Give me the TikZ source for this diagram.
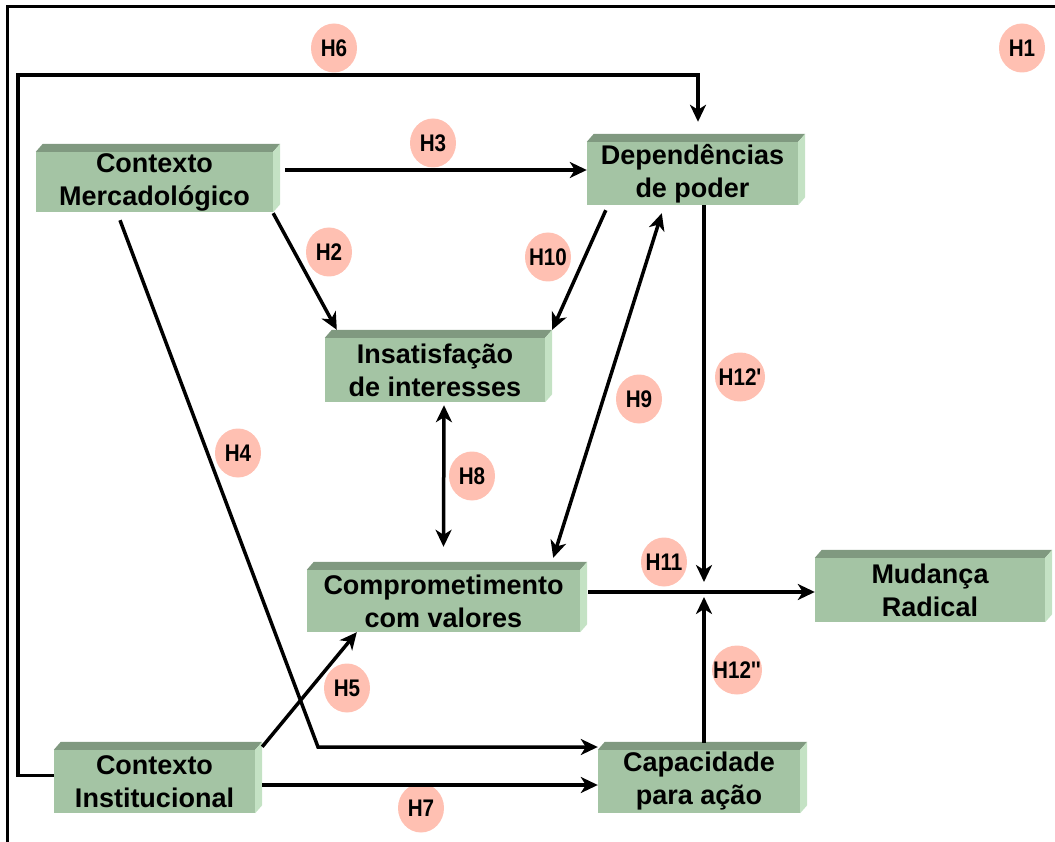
\documentclass[tikz,border=0pt]{standalone}
\usepackage{fontspec}
\setmainfont{Liberation Sans}
\newfontfamily\tagfont[FakeStretch=0.86]{Liberation Sans}
\usetikzlibrary{arrows.meta,shapes.geometric}

\definecolor{slabfront}{RGB}{164,196,164}
\definecolor{slabtop}{RGB}{128,153,128}
\definecolor{slabside}{RGB}{196,226,196}
\definecolor{tagfill}{RGB}{255,192,178}

% top and right faces of a bevelled block
\newcommand\slabfaces[1]{%
  \fill[slabtop] (#1.north west) -- ([shift={(7pt,8pt)}]#1.north west)
    -- ([shift={(7pt,8pt)}]#1.north east) -- (#1.north east) -- cycle;
  \fill[slabside] (#1.north east) -- ([shift={(7pt,8pt)}]#1.north east)
    -- ([shift={(7pt,8pt)}]#1.south east) -- (#1.south east) -- cycle;}

% tag text that does not widen its ellipse
\newcommand\tagtext[1]{\makebox[0pt][c]{#1}}

\begin{document}
\begin{tikzpicture}[x=1pt,y=-1pt,
  slab/.style={fill=slabfront, inner sep=0pt, align=center,
    font=\fontsize{27}{33}\selectfont\bfseries},
  tag/.style={ellipse, fill=tagfill, inner sep=0pt, minimum width=46pt,
    minimum height=49pt, font=\tagfont\bfseries\fontsize{24}{24}\selectfont},
  link/.style={line width=3.5pt, -{Stealth[length=17pt,width=16pt,inset=5pt]}},
  twoway/.style={line width=3.5pt,
    {Stealth[length=17pt,width=16pt,inset=5pt]}-{Stealth[length=17pt,width=16pt,inset=5pt]}}
]
\useasboundingbox (0,0) rectangle (1055,842);

% frame
\draw[line width=3pt] (7,842) -- (7,7) -- (1055,7);

% blocks
\node[slab, minimum width=237pt, minimum height=60pt] (cm) at (154.5,182) {Contexto\\Mercadológico};
\slabfaces{cm}
\node[slab, minimum width=211pt, minimum height=63pt] (dp) at (692.5,173.5) {Dependências\\de poder};
\slabfaces{dp}
\node[slab, minimum width=220pt, minimum height=64pt] (is) at (435,370) {Insatisfação\\de interesses};
\slabfaces{is}
\node[slab, minimum width=273pt, minimum height=62pt] (cv) at (443.5,601) {Comprometimento\\com valores};
\slabfaces{cv}
\node[slab, minimum width=230pt, minimum height=64pt] (mr) at (930,590) {Mudança\\Radical};
\slabfaces{mr}
\node[slab, minimum width=201pt, minimum height=63pt] (ci) at (154.5,781.5) {Contexto\\Institucional};
\slabfaces{ci}
\node[slab, minimum width=202pt, minimum height=63pt] (cp) at (699,781.5) {Capacidade\\para ação};
\slabfaces{cp}

% hypothesis tags
\node[tag] (h6) at (334,48) {\tagtext{H6}};
\node[tag] (h1) at (1022,48) {\tagtext{H1}};
\node[tag] (h3) at (433,143) {\tagtext{H3}};
\node[tag] (h2) at (329,252) {\tagtext{H2}};
\node[tag] (h10) at (548,257) {\tagtext{H10}};
\node[tag, minimum width=50pt] (h12a) at (740,377) {\tagtext{H12'}};
\node[tag] (h9) at (639,399) {\tagtext{H9}};
\node[tag] (h4) at (238,453) {\tagtext{H4}};
\node[tag] (h8) at (472,476) {\tagtext{H8}};
\node[tag] (h11) at (664,562) {\tagtext{H11}};
\node[tag] (h5) at (347,688) {\tagtext{H5}};
\node[tag, minimum width=50pt] (h12b) at (737,670) {\tagtext{H12''}};
\node[tag] (h7) at (421,808) {\tagtext{H7}};

% junction where the H12 paths meet the H11 path
\coordinate (hub) at (704,592);
\coordinate (h6bend) at (18,75);
\coordinate (h4bend) at (318,747);

% connectors
\draw[link] ([yshift=6pt]ci.west) -| (h6bend) -| ([xshift=5.5pt,yshift=20pt]dp.north);
\draw[link] ([xshift=12pt,yshift=12pt]cm.east) -- ([yshift=3.5pt]dp.west);
\draw[link] ([yshift=-1pt]cm.south east) -- ([xshift=12pt,yshift=8pt]is.north west);
\draw[link] ([xshift=19pt,yshift=-5pt]dp.south west) -- ([xshift=7pt,yshift=8pt]is.north east);
\draw[twoway] ([xshift=-27pt,yshift=12pt]cv.north east) -- ([xshift=75pt,yshift=-8pt]dp.south west);
\draw[twoway] ([xshift=9pt,yshift=-3pt]is.south) -- ([yshift=23pt]cv.north);
\draw[link] ([xshift=-34.5pt,yshift=-8pt]cm.south) -- (h4bend) -- ([yshift=34.5pt]cp.west);
\draw[link] ([xshift=7pt,yshift=3pt]ci.north east) -- ([xshift=50pt]cv.south west);
\draw[link] ([xshift=7pt,yshift=-3.5pt]ci.east) -- ([yshift=-3.5pt]cp.west);
\draw[link] ([xshift=11.5pt]dp.south) -- ([yshift=10pt]hub);
\draw[link] ([xshift=5pt,yshift=7pt]cp.north) -- ([yshift=-5pt]hub);
\draw[link] ([xshift=8pt,yshift=9pt]cv.east) -- (mr.west |- hub);
\end{tikzpicture}
\end{document}
